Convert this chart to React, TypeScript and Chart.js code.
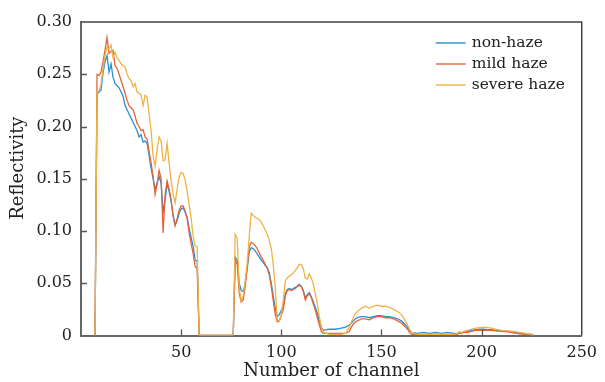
import React, { useEffect, useRef } from 'react';
import { Chart, registerables } from 'chart.js';

Chart.register(...registerables);

// Channel numbers (x values)
const channels = [
  7, 8, 9, 10, 11, 12, 13, 14, 15, 16, 17, 18, 19, 20, 21, 22, 23, 24, 25, 26,
  27, 28, 29, 30, 31, 32, 33, 34, 35, 36, 37, 38, 39, 40, 41, 42, 43, 44, 45, 46,
  47, 48, 49, 50, 51, 52, 53, 54, 55, 56, 57, 58, 59,
  76, 77, 78, 79, 80, 81, 82, 83, 84, 85, 86, 87, 88, 89, 90, 91, 92, 93, 94, 95,
  96, 97, 98, 99, 100, 101, 102, 103, 104, 105, 106, 107, 108, 109, 110, 111, 112,
  113, 114, 115, 116, 117, 118, 119, 120, 121,
  124, 127, 130, 132,
  134, 135, 136, 137, 138, 140, 142, 144, 146, 148, 150, 152, 154, 156, 158, 160,
  161, 162, 163, 164, 165,
  168, 171, 174, 177, 180, 183, 186,
  188, 189, 190, 191, 193, 195, 197, 199, 201, 203, 205, 207, 210, 213, 216, 219,
  222, 225, 226,
];

const nonHaze = [
  0, 0.231, 0.233, 0.235, 0.251, 0.262, 0.268, 0.252, 0.26, 0.247, 0.241, 0.239, 0.237, 0.233, 0.229, 0.22, 0.216, 0.212, 0.208, 0.204,
  0.2, 0.196, 0.19, 0.192, 0.185, 0.186, 0.184, 0.172, 0.16, 0.15, 0.14, 0.146, 0.152, 0.146, 0.118, 0.13, 0.145, 0.138, 0.128, 0.115,
  0.106, 0.11, 0.117, 0.121, 0.122, 0.118, 0.113, 0.102, 0.094, 0.085, 0.072, 0.071, 0,
  0, 0.075, 0.072, 0.05, 0.043, 0.042, 0.05, 0.064, 0.08, 0.084, 0.083, 0.081, 0.078, 0.075, 0.072, 0.07, 0.067, 0.065, 0.06, 0.05,
  0.038, 0.026, 0.018, 0.02, 0.024, 0.028, 0.04, 0.044, 0.045, 0.044, 0.045, 0.046, 0.047, 0.049, 0.047, 0.043, 0.036,
  0.039, 0.041, 0.037, 0.032, 0.027, 0.021, 0.014, 0.008, 0.005,
  0.006, 0.006, 0.007, 0.008,
  0.01, 0.012, 0.014, 0.016, 0.017, 0.018, 0.018, 0.017, 0.018, 0.019, 0.019, 0.018, 0.018, 0.017, 0.016, 0.014,
  0.012, 0.01, 0.008, 0.005, 0.003,
  0.002, 0.003, 0.002, 0.003, 0.002, 0.003, 0.002,
  0.002, 0.002, 0.003, 0.003, 0.004, 0.005, 0.0055, 0.006, 0.006, 0.0055, 0.0055, 0.005, 0.0045, 0.004, 0.003, 0.002,
  0.0015, 0.001, 0,
];

const mildHaze = [
  0, 0.25, 0.249, 0.252, 0.262, 0.273, 0.285, 0.27, 0.272, 0.273, 0.258, 0.256, 0.25, 0.244, 0.238, 0.232, 0.225, 0.22, 0.218, 0.216,
  0.21, 0.203, 0.2, 0.196, 0.197, 0.19, 0.188, 0.176, 0.165, 0.152, 0.135, 0.145, 0.158, 0.15, 0.098, 0.135, 0.148, 0.14, 0.13, 0.114,
  0.105, 0.112, 0.12, 0.124, 0.124, 0.119, 0.112, 0.098, 0.088, 0.078, 0.066, 0.064, 0,
  0, 0.073, 0.068, 0.04, 0.032, 0.034, 0.047, 0.066, 0.085, 0.089, 0.088, 0.086, 0.083, 0.079, 0.075, 0.072, 0.068, 0.064, 0.058, 0.047,
  0.033, 0.02, 0.013, 0.014, 0.019, 0.025, 0.038, 0.043, 0.044, 0.043, 0.044, 0.045, 0.047, 0.048, 0.047, 0.042, 0.034,
  0.038, 0.04, 0.036, 0.03, 0.024, 0.017, 0.01, 0.004, 0.002,
  0.002, 0.002, 0.002, 0.002,
  0.004, 0.008, 0.011, 0.013, 0.014, 0.016, 0.016, 0.015, 0.017, 0.018, 0.018, 0.017, 0.017, 0.016, 0.014, 0.012,
  0.01, 0.008, 0.006, 0.003, 0.001,
  0.001, 0.001, 0.001, 0.001, 0.001, 0.001, 0.001,
  0.001, 0.003, 0.002, 0.003, 0.003, 0.004, 0.005, 0.005, 0.005, 0.005, 0.005, 0.0045, 0.004, 0.0035, 0.0025, 0.0015,
  0.001, 0.0005, 0,
];

const severeHaze = [
  0, 0.234, 0.234, 0.24, 0.255, 0.268, 0.276, 0.274, 0.278, 0.266, 0.271, 0.266, 0.263, 0.26, 0.258, 0.257, 0.25, 0.246, 0.244, 0.238,
  0.241, 0.233, 0.232, 0.23, 0.22, 0.23, 0.228, 0.212, 0.196, 0.172, 0.162, 0.178, 0.19, 0.186, 0.167, 0.168, 0.184, 0.165, 0.148, 0.135,
  0.127, 0.14, 0.152, 0.156, 0.155, 0.149, 0.138, 0.125, 0.112, 0.095, 0.086, 0.085, 0,
  0, 0.097, 0.093, 0.045, 0.033, 0.038, 0.052, 0.07, 0.095, 0.117, 0.115, 0.113, 0.112, 0.111, 0.108, 0.105, 0.101, 0.097, 0.091, 0.083,
  0.068, 0.045, 0.015, 0.014, 0.02, 0.034, 0.052, 0.055, 0.057, 0.058, 0.06, 0.062, 0.065, 0.068, 0.068, 0.064, 0.055,
  0.054, 0.059, 0.055, 0.049, 0.04, 0.03, 0.018, 0.008, 0.003,
  0.001, 0.001, 0.001, 0.002,
  0.008, 0.013, 0.017, 0.021, 0.023, 0.026, 0.028, 0.026, 0.028, 0.029, 0.028, 0.028, 0.027, 0.025, 0.023, 0.02,
  0.017, 0.014, 0.01, 0.006, 0.003,
  0.001, 0.001, 0.001, 0.001, 0.001, 0.001, 0.001,
  0.002, 0.004, 0.002, 0.004, 0.005, 0.006, 0.007, 0.0075, 0.008, 0.0075, 0.007, 0.006, 0.005, 0.0045, 0.004, 0.003,
  0.002, 0.001, 0,
];

const seriesLabels = ['non-haze', 'mild haze', 'severe haze'];
const seriesColors = ['#2a8fd0', '#e2643c', '#eeb345'];
const xTitle = 'Number of channel';
const yTitle = 'Reflectivity';

const FONT = '"DejaVu Serif", "Liberation Serif", serif';

const framePlugin = {
  id: 'frameAndLegend',
  afterDraw(chart: any) {
    const { ctx, chartArea: a, scales } = chart;
    const xs = scales.x;
    const ys = scales.y;
    ctx.save();
    // top and right frame
    ctx.strokeStyle = '#444';
    ctx.lineWidth = 1.5;
    ctx.beginPath();
    ctx.moveTo(a.left, a.top);
    ctx.lineTo(a.right, a.top);
    ctx.lineTo(a.right, a.bottom);
    ctx.stroke();
    // inward tick marks
    ctx.strokeStyle = '#555';
    ctx.lineWidth = 1.3;
    ctx.beginPath();
    for (const t of ys.ticks) {
      if (t.value <= 0 || t.value >= 0.2999) continue;
      const py = Math.round(ys.getPixelForValue(t.value)) + 0.5;
      ctx.moveTo(a.left, py);
      ctx.lineTo(a.left + 6, py);
    }
    for (const t of xs.ticks) {
      if (t.value <= 0 || t.value >= 250) continue;
      const px = Math.round(xs.getPixelForValue(t.value)) + 0.5;
      ctx.moveTo(px, a.bottom);
      ctx.lineTo(px, a.bottom - 6);
    }
    ctx.stroke();
    // y title
    ctx.fillStyle = '#222';
    ctx.font = `18px ${FONT}`;
    ctx.textAlign = 'center';
    ctx.textBaseline = 'middle';
    ctx.save();
    ctx.translate(18.5, a.top + (a.bottom - a.top) * 0.466);
    ctx.rotate(-Math.PI / 2);
    ctx.fillText(yTitle, 0, 0);
    ctx.restore();
    // legend
    ctx.font = `15.5px ${FONT}`;
    ctx.textAlign = 'left';
    chart.data.datasets.forEach((ds: any, i: number) => {
      const yy = a.top + 21 + i * 21;
      ctx.strokeStyle = ds.borderColor;
      ctx.lineWidth = 1.4;
      ctx.beginPath();
      ctx.moveTo(a.right - 146, yy);
      ctx.lineTo(a.right - 116, yy);
      ctx.stroke();
      ctx.fillStyle = '#222';
      ctx.fillText(ds.label, a.right - 110, yy);
    });
    ctx.restore();
  },
};

export default function App() {
  const ref = useRef<HTMLCanvasElement>(null);
  useEffect(() => {
    if (!ref.current) return;
    const series = [nonHaze, mildHaze, severeHaze];
    const chart = new Chart(ref.current, {
      type: 'line',
      data: {
        datasets: series.map((vals, i) => ({
          label: seriesLabels[i],
          data: channels.map((c, j) => ({ x: c, y: vals[j] })),
          borderColor: seriesColors[i],
          backgroundColor: seriesColors[i],
          borderWidth: 1.3,
          pointRadius: 0,
          tension: 0,
          fill: false,
          order: 2 - i,
        })),
      },
      options: {
        responsive: false,
        animation: false,
        devicePixelRatio: 1,
        layout: { padding: { top: 22, right: 16, left: 0, bottom: 0 } },
        plugins: { legend: { display: false }, tooltip: { enabled: false } },
        scales: {
          x: {
            type: 'linear',
            min: 0,
            max: 250,
            z: 1,
            grid: { display: false, drawTicks: false },
            border: { display: true, color: '#666', width: 2 },
            ticks: {
              stepSize: 50,
              padding: 8,
              color: '#222',
              font: { family: FONT, size: 16 },
              callback: (v: any) => (v === 0 ? '' : String(v)),
            },
            title: {
              display: true,
              text: xTitle,
              color: '#222',
              font: { family: FONT, size: 18 },
              padding: { top: 0, bottom: 0 },
            },
            afterFit: (s: any) => {
              s.height = 46.5;
            },
          },
          y: {
            type: 'linear',
            min: 0,
            max: 0.3,
            grid: { display: false, drawTicks: false },
            border: { display: true, color: '#666', width: 2 },
            ticks: {
              stepSize: 0.05,
              padding: 9,
              color: '#222',
              font: { family: FONT, size: 16 },
              callback: (v: any) => (Math.abs(v) < 1e-9 ? '0' : Number(v).toFixed(2)),
            },
            afterFit: (s: any) => {
              s.width = 81;
            },
          },
        },
      },
      plugins: [framePlugin],
    });
    return () => chart.destroy();
  }, []);
  return (
    <div style={{ position: 'absolute', left: 0, top: 0, width: 605, height: 382, background: '#fff' }}>
      <canvas ref={ref} width={605} height={382} />
    </div>
  );
}
